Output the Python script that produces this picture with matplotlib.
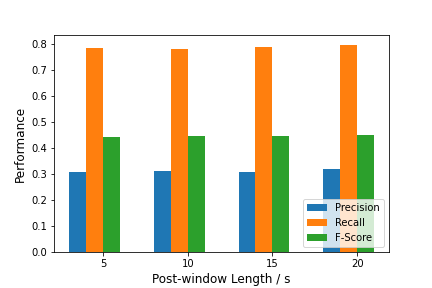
import numpy as np
import matplotlib
matplotlib.use('Agg')
import matplotlib.pyplot as plt

#Data
window = [5, 10, 15, 20]
precision = [0.307, 0.310, 0.307, 0.318]
recall = [0.786, 0.782, 0.791, 0.795]
fscore = [0.441, 0.445, 0.445, 0.452]

x = np.array(window, dtype=float)
w = 1.0

fig = plt.figure(figsize=(6, 4), dpi=72)
ax = fig.add_axes([0.125, 0.125, 0.776, 0.753])
ax.bar(x - 1.5, precision, w, label='Precision')
ax.bar(x - 0.5, recall, w, label='Recall')
ax.bar(x + 0.5, fscore, w, label='F-Score')
ax.set_xticks(window)
ax.set_xlabel('Post-window Length / s', fontsize=12)
ax.set_ylabel('Performance', fontsize=12)
ax.legend(loc='lower right')

plt.savefig('out.png', dpi=72)
